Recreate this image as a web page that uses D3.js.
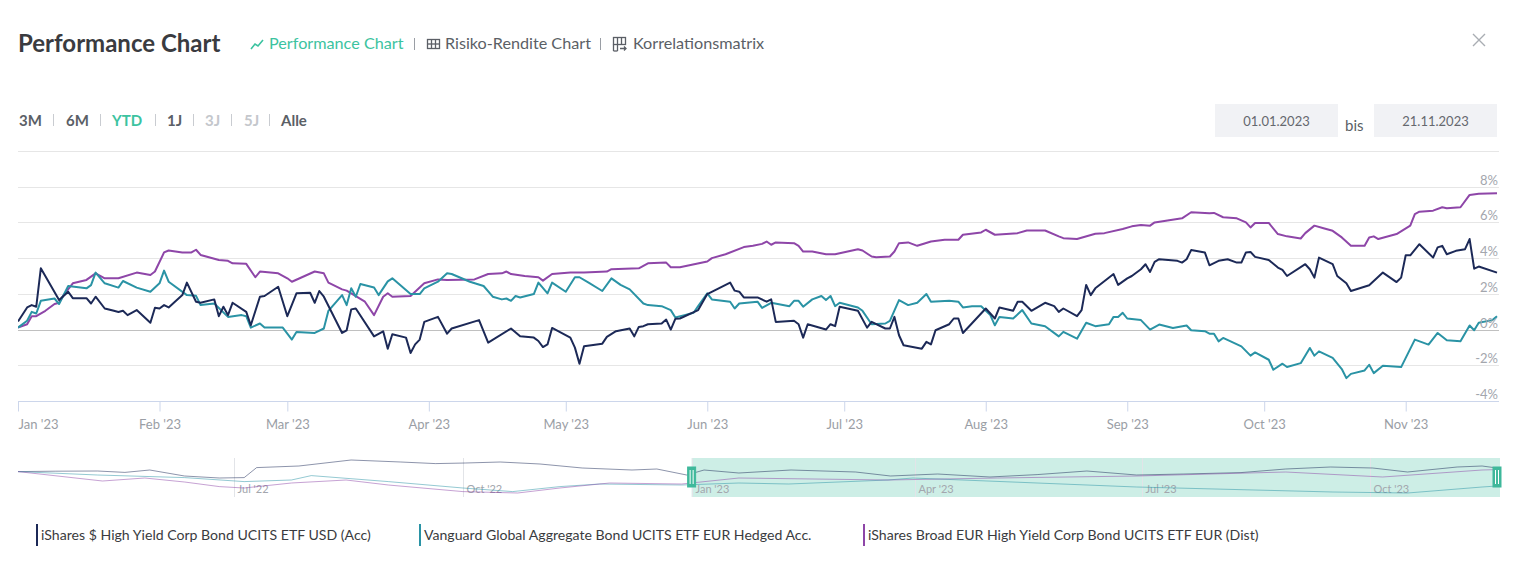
<!DOCTYPE html>
<html><head><meta charset="utf-8">
<script src="https://cdn.jsdelivr.net/npm/d3@7"></script>
<style>
html,body{margin:0;padding:0;background:#fff;}
svg{display:block;font-family:Lato,"Open Sans",sans-serif;}
</style></head>
<body><svg id="c" width="1517" height="583"></svg>
<script>
// ---------- DATA ----------
const seriesNames = [
  "iShares $ High Yield Corp Bond UCITS ETF USD (Acc)",
  "Vanguard Global Aggregate Bond UCITS ETF EUR Hedged Acc.",
  "iShares Broad EUR High Yield Corp Bond UCITS ETF EUR (Dist)"
];
const hyUsd = [["2023-01-01",0.45],["2023-01-03",1.24],["2023-01-04",1.37],["2023-01-05",1.28],["2023-01-06",3.43],["2023-01-10",1.65],["2023-01-12",2.12],["2023-01-13",1.76],["2023-01-16",1.76],["2023-01-17",1.46],["2023-01-18",1.84],["2023-01-20",1.18],["2023-01-22",1.05],["2023-01-23",0.98],["2023-01-24",1.05],["2023-01-25",0.81],["2023-01-27",1.09],["2023-01-30",0.38],["2023-01-31",1.22],["2023-02-01",1.18],["2023-02-02",1.37],["2023-02-03",1.24],["2023-02-06",1.93],["2023-02-07",2.63],["2023-02-09",1.56],["2023-02-10",1.50],["2023-02-13",1.69],["2023-02-14",0.75],["2023-02-15",1.28],["2023-02-16",0.81],["2023-02-17",1.50],["2023-02-20",0.99],["2023-02-21",0.24],["2023-02-23",1.84],["2023-02-24",1.88],["2023-02-27",2.40],["2023-03-01",0.75],["2023-03-03",2.03],["2023-03-06",2.06],["2023-03-07",1.50],["2023-03-08",2.16],["2023-03-09",1.84],["2023-03-13",-0.19],["2023-03-14",-0.04],["2023-03-15",1.13],["2023-03-16",1.18],["2023-03-20",-0.38],["2023-03-22",-0.10],["2023-03-23",-1.07],["2023-03-24",-0.26],["2023-03-27",-0.45],["2023-03-28",-1.31],["2023-03-29",-0.83],["2023-03-30",-0.56],["2023-03-31",0.43],["2023-04-03",0.71],["2023-04-05",-0.23],["2023-04-06",0.06],["2023-04-12",0.53],["2023-04-14",-0.73],["2023-04-19",0.06],["2023-04-21",-0.38],["2023-04-24",-0.45],["2023-04-25",-0.64],["2023-04-26",-0.98],["2023-04-27",-0.83],["2023-04-28",0.09],["2023-05-02",-0.45],["2023-05-03",-1.01],["2023-05-04",-1.91],["2023-05-05",-0.94],["2023-05-09",-0.79],["2023-05-10",-0.41],["2023-05-12",-0.09],["2023-05-15",0.06],["2023-05-16",-0.38],["2023-05-17",0.15],["2023-05-18",0.19],["2023-05-19",0.30],["2023-05-22",0.34],["2023-05-23",0.56],["2023-05-24",0.00],["2023-05-25",0.60],["2023-05-26",0.62],["2023-05-30",1.09],["2023-06-01",1.99],["2023-06-06",2.63],["2023-06-07",2.18],["2023-06-08",2.12],["2023-06-09",1.80],["2023-06-12",1.80],["2023-06-14",1.56],["2023-06-15",1.69],["2023-06-16",0.43],["2023-06-20",0.49],["2023-06-21",0.30],["2023-06-22",-0.45],["2023-06-23",0.30],["2023-06-27",0.00],["2023-06-28",0.30],["2023-06-29",0.19],["2023-06-30",1.28],["2023-07-04",1.05],["2023-07-06",0.11],["2023-07-07",0.43],["2023-07-10",0.06],["2023-07-11",0.06],["2023-07-12",0.71],["2023-07-13",-0.32],["2023-07-14",-0.88],["2023-07-18",-1.07],["2023-07-19",-0.69],["2023-07-20",-0.83],["2023-07-21",-0.04],["2023-07-24",0.30],["2023-07-25",0.62],["2023-07-26",0.62],["2023-07-27",-0.19],["2023-08-01",1.18],["2023-08-03",0.62],["2023-08-04",1.24],["2023-08-07",1.05],["2023-08-08",1.56],["2023-08-09",1.56],["2023-08-11",1.05],["2023-08-14",1.50],["2023-08-16",1.31],["2023-08-17",0.99],["2023-08-18",1.18],["2023-08-21",0.75],["2023-08-22",1.09],["2023-08-23",2.50],["2023-08-24",1.93],["2023-08-25",2.31],["2023-08-29",3.11],["2023-08-30",2.50],["2023-09-01",2.87],["2023-09-02",3.00],["2023-09-04",3.38],["2023-09-05",3.66],["2023-09-06",3.23],["2023-09-07",3.79],["2023-09-08",3.94],["2023-09-12",3.85],["2023-09-13",3.75],["2023-09-14",3.94],["2023-09-15",4.45],["2023-09-18",4.32],["2023-09-19",3.60],["2023-09-21",3.85],["2023-09-23",3.94],["2023-09-25",3.75],["2023-09-26",3.75],["2023-09-27",4.32],["2023-09-28",4.35],["2023-09-29",4.07],["2023-10-02",3.90],["2023-10-04",3.47],["2023-10-05",3.34],["2023-10-06",3.00],["2023-10-10",3.66],["2023-10-11",3.38],["2023-10-12",2.91],["2023-10-13",4.03],["2023-10-16",3.66],["2023-10-17",3.00],["2023-10-19",2.59],["2023-10-20",2.16],["2023-10-24",2.48],["2023-10-27",3.19],["2023-10-30",2.66],["2023-10-31",2.91],["2023-11-01",4.16],["2023-11-02",4.16],["2023-11-04",4.78],["2023-11-07",4.03],["2023-11-08",4.60],["2023-11-09",4.69],["2023-11-10",4.22],["2023-11-12",4.41],["2023-11-14",4.50],["2023-11-15",5.07],["2023-11-16",3.41],["2023-11-17",3.53],["2023-11-21",3.19]];
const vanguardAgg = [["2023-01-01",0.11],["2023-01-03",0.49],["2023-01-04",0.99],["2023-01-05",0.90],["2023-01-06",1.61],["2023-01-09",1.74],["2023-01-10",1.43],["2023-01-12",2.44],["2023-01-16",2.31],["2023-01-17",2.49],["2023-01-18",3.19],["2023-01-20",2.59],["2023-01-23",2.35],["2023-01-24",2.72],["2023-01-27",2.35],["2023-01-30",2.12],["2023-02-01",2.59],["2023-02-02",3.30],["2023-02-03",2.68],["2023-02-07",1.93],["2023-02-09",1.89],["2023-02-10",1.37],["2023-02-13",1.46],["2023-02-16",0.71],["2023-02-19",0.81],["2023-02-20",0.75],["2023-02-21",0.11],["2023-02-23",0.34],["2023-02-24",0.11],["2023-02-28",0.11],["2023-03-02",-0.56],["2023-03-03",-0.13],["2023-03-07",-0.19],["2023-03-09",0.06],["2023-03-10",1.05],["2023-03-13",1.93],["2023-03-14",1.37],["2023-03-15",2.31],["2023-03-16",1.84],["2023-03-17",2.55],["2023-03-20",2.36],["2023-03-21",1.93],["2023-03-23",2.70],["2023-03-24",2.87],["2023-03-28",1.99],["2023-03-30",1.99],["2023-03-31",2.31],["2023-04-03",2.68],["2023-04-05",3.15],["2023-04-06",3.11],["2023-04-10",2.68],["2023-04-13",2.44],["2023-04-15",1.84],["2023-04-17",1.69],["2023-04-18",1.74],["2023-04-19",1.61],["2023-04-20",1.88],["2023-04-21",1.80],["2023-04-24",1.99],["2023-04-25",2.63],["2023-04-27",2.03],["2023-04-28",2.63],["2023-05-01",2.12],["2023-05-03",2.93],["2023-05-04",2.93],["2023-05-06",2.63],["2023-05-09",2.16],["2023-05-11",2.87],["2023-05-13",2.50],["2023-05-15",2.25],["2023-05-18",1.46],["2023-05-19",1.37],["2023-05-22",1.31],["2023-05-24",1.09],["2023-05-25",0.68],["2023-05-27",0.81],["2023-05-29",0.94],["2023-05-30",1.31],["2023-06-01",2.03],["2023-06-02",1.69],["2023-06-06",1.56],["2023-06-07",1.18],["2023-06-08",1.46],["2023-06-12",1.56],["2023-06-13",1.21],["2023-06-15",1.50],["2023-06-19",1.31],["2023-06-20",1.61],["2023-06-21",1.61],["2023-06-22",1.28],["2023-06-24",1.69],["2023-06-26",1.88],["2023-06-27",1.65],["2023-06-28",1.88],["2023-06-29",1.31],["2023-06-30",1.50],["2023-07-04",1.24],["2023-07-05",1.05],["2023-07-07",0.30],["2023-07-10",0.34],["2023-07-11",0.49],["2023-07-13",1.65],["2023-07-15",1.37],["2023-07-17",1.50],["2023-07-19",1.99],["2023-07-20",1.56],["2023-07-24",1.61],["2023-07-26",1.56],["2023-07-27",1.24],["2023-07-29",1.31],["2023-07-31",1.31],["2023-08-02",0.81],["2023-08-03",0.24],["2023-08-04",0.71],["2023-08-07",0.62],["2023-08-09",1.09],["2023-08-11",0.34],["2023-08-14",0.19],["2023-08-17",-0.38],["2023-08-18",-0.13],["2023-08-21",-0.51],["2023-08-23",0.38],["2023-08-25",0.19],["2023-08-28",0.30],["2023-08-29",0.71],["2023-08-30",0.71],["2023-08-31",0.94],["2023-09-01",0.62],["2023-09-04",0.53],["2023-09-06",0.00],["2023-09-08",0.28],["2023-09-11",0.09],["2023-09-14",0.23],["2023-09-15",-0.04],["2023-09-18",-0.09],["2023-09-19",-0.23],["2023-09-20",-0.23],["2023-09-21",-0.66],["2023-09-22",-0.47],["2023-09-26",-0.94],["2023-09-28",-1.46],["2023-09-29",-1.28],["2023-10-02",-1.69],["2023-10-03",-2.25],["2023-10-05",-1.91],["2023-10-06",-2.10],["2023-10-09",-1.88],["2023-10-11",-1.03],["2023-10-12",-1.46],["2023-10-13",-1.22],["2023-10-16",-1.59],["2023-10-18",-2.21],["2023-10-19",-2.72],["2023-10-20",-2.48],["2023-10-23",-2.29],["2023-10-24",-1.97],["2023-10-25",-2.44],["2023-10-27",-2.03],["2023-10-31",-2.10],["2023-11-03",-0.56],["2023-11-06",-0.84],["2023-11-08",-0.19],["2023-11-10",-0.60],["2023-11-13",-0.66],["2023-11-15",0.23],["2023-11-16",-0.04],["2023-11-17",0.38],["2023-11-20",0.53],["2023-11-21",0.75]];
const hyEur = [["2023-01-01",0.11],["2023-01-03",0.30],["2023-01-04",0.75],["2023-01-05",0.75],["2023-01-07",1.05],["2023-01-09",1.43],["2023-01-10",1.50],["2023-01-11",1.93],["2023-01-13",2.59],["2023-01-16",2.78],["2023-01-18",3.15],["2023-01-20",2.87],["2023-01-23",2.87],["2023-01-27",3.19],["2023-01-30",3.06],["2023-01-31",3.25],["2023-02-02",4.32],["2023-02-03",4.43],["2023-02-06",4.32],["2023-02-08",4.32],["2023-02-09",4.47],["2023-02-10",4.18],["2023-02-14",3.90],["2023-02-16",3.85],["2023-02-17",3.71],["2023-02-20",3.68],["2023-02-22",2.93],["2023-02-23",3.25],["2023-02-27",3.15],["2023-03-01",2.87],["2023-03-02",2.68],["2023-03-07",3.25],["2023-03-09",3.15],["2023-03-10",2.63],["2023-03-13",2.25],["2023-03-14",2.18],["2023-03-18",1.56],["2023-03-20",0.81],["2023-03-22",1.84],["2023-03-23",2.03],["2023-03-24",1.84],["2023-03-28",1.88],["2023-03-31",2.59],["2023-04-03",2.81],["2023-04-05",2.78],["2023-04-11",2.81],["2023-04-14",3.11],["2023-04-17",3.15],["2023-04-18",3.25],["2023-04-19",3.11],["2023-04-22",3.00],["2023-04-25",2.93],["2023-04-26",2.74],["2023-04-28",3.11],["2023-05-02",3.19],["2023-05-05",3.19],["2023-05-10",3.25],["2023-05-11",3.38],["2023-05-17",3.43],["2023-05-19",3.71],["2023-05-23",3.75],["2023-05-24",3.49],["2023-05-26",3.49],["2023-06-01",3.81],["2023-06-02",4.00],["2023-06-05",4.22],["2023-06-09",4.62],["2023-06-11",4.69],["2023-06-13",4.80],["2023-06-14",4.93],["2023-06-15",4.75],["2023-06-16",4.88],["2023-06-20",4.84],["2023-06-21",4.69],["2023-06-22",4.37],["2023-06-24",4.37],["2023-06-27",4.22],["2023-06-29",4.22],["2023-07-04",4.50],["2023-07-05",4.43],["2023-07-07",4.09],["2023-07-08",4.05],["2023-07-11",4.09],["2023-07-12",4.37],["2023-07-13",4.84],["2023-07-15",4.88],["2023-07-17",4.69],["2023-07-20",4.93],["2023-07-23",5.03],["2023-07-26",5.03],["2023-07-27",5.31],["2023-07-31",5.44],["2023-08-01",5.59],["2023-08-03",5.31],["2023-08-08",5.40],["2023-08-10",5.55],["2023-08-14",5.55],["2023-08-17",5.22],["2023-08-18",5.12],["2023-08-21",5.07],["2023-08-25",5.37],["2023-08-27",5.40],["2023-08-31",5.63],["2023-09-02",5.78],["2023-09-04",5.85],["2023-09-06",5.82],["2023-09-07",6.00],["2023-09-13",6.23],["2023-09-15",6.57],["2023-09-19",6.51],["2023-09-20",6.53],["2023-09-22",6.29],["2023-09-25",6.23],["2023-09-27",6.00],["2023-09-28",5.72],["2023-09-29",5.97],["2023-10-02",5.97],["2023-10-04",5.35],["2023-10-06",5.22],["2023-10-09",5.10],["2023-10-10",5.40],["2023-10-12",5.82],["2023-10-14",5.67],["2023-10-16",5.53],["2023-10-18",5.16],["2023-10-20",4.69],["2023-10-23",4.69],["2023-10-24",5.16],["2023-10-25",5.22],["2023-10-26",5.07],["2023-10-30",5.35],["2023-11-02",5.82],["2023-11-03",6.47],["2023-11-04",6.60],["2023-11-07",6.66],["2023-11-09",6.85],["2023-11-10",6.79],["2023-11-13",6.85],["2023-11-15",7.54],["2023-11-17",7.60],["2023-11-21",7.64]];

// navigator (full history, % since navigator start)
const navHyUsd = [["2022-04-05",0],["2022-04-20",0.2],["2022-05-07",0.3],["2022-05-18",-0.4],["2022-05-28",0.8],["2022-06-11",-2.2],["2022-06-25",-3.2],["2022-07-05",-3.0],["2022-07-10",2.0],["2022-07-27",2.8],["2022-08-17",5.8],["2022-09-06",4.8],["2022-09-20",4.0],["2022-10-02",4.3],["2022-10-16",4.8],["2022-11-01",3.8],["2022-11-18",1.8],["2022-12-08",0.8],["2022-12-18",1.3],["2022-12-30",-1.7],["2023-01-06",0.8],["2023-01-20",-0.7],["2023-02-10",0.8],["2023-03-08",-0.2],["2023-03-22",-2.2],["2023-04-10",-1.2],["2023-05-01",-2.7],["2023-05-20",-1.5],["2023-06-09",0.3],["2023-06-29",-1.7],["2023-07-18",-1.2],["2023-08-10",-0.5],["2023-08-28",1.3],["2023-09-15",2.3],["2023-10-02",1.8],["2023-10-16",-0.2],["2023-11-05",2.3],["2023-11-15",2.8],["2023-11-21",1.8]];
const navVanguardAgg = [["2022-04-05",0],["2022-05-07",-1.7],["2022-06-11",-3.0],["2022-07-05",-5.0],["2022-07-24",-4.2],["2022-08-01",-2.0],["2022-09-01",-5.0],["2022-10-01",-8.2],["2022-10-21",-10.0],["2022-11-09",-7.5],["2022-11-25",-6.2],["2022-12-28",-6.7],["2023-01-20",-5.7],["2023-02-09",-6.2],["2023-03-21",-4.2],["2023-03-31",-3.2],["2023-05-20",-5.7],["2023-06-29",-7.7],["2023-09-16",-10.2],["2023-10-16",-10.7],["2023-11-15",-7.7],["2023-11-21",-7.2]];
const navHyEur = [["2022-04-05",0],["2022-05-09",-4.7],["2022-05-26",-3.2],["2022-06-11",-5.2],["2022-06-25",-7.5],["2022-07-05",-8.2],["2022-07-24",-5.7],["2022-08-15",-4.2],["2022-09-01",-6.7],["2022-10-01",-10.0],["2022-10-23",-10.7],["2022-11-09",-8.2],["2022-11-29",-5.7],["2022-12-28",-6.2],["2023-01-20",-3.2],["2023-03-21",-4.2],["2023-05-04",-3.2],["2023-06-29",-2.2],["2023-08-28",-0.2],["2023-10-06",-2.7],["2023-11-15",0.8],["2023-11-21",1.0]];

const yTicks = [-4,-2,0,2,4,6,8,10];
const monthTicks = ["2023-01-01","2023-02-01","2023-03-01","2023-04-01","2023-05-01","2023-06-01","2023-07-01","2023-08-01","2023-09-01","2023-10-01","2023-11-01"];
const navTicks = ["2022-07-01","2022-10-01","2023-01-01","2023-04-01","2023-07-01","2023-10-01"];
const rangeButtons = ["3M","6M","YTD","1J","3J","5J","Alle"];
const tabLabels = ["Performance Chart","Risiko-Rendite Chart","Korrelationsmatrix"];
const dateFrom = "01.01.2023", dateTo = "21.11.2023";
const viewStart = "2023-01-01", viewEnd = "2023-11-21", navStart = "2022-04-05";

// ---------- STYLE ----------
const colors = ["#1c2957","#2a93a5","#8e46a8"];
const teal = "#3cc3a0";

// ---------- DRAW ----------
const parse = d3.timeParse("%Y-%m-%d");
const svg = d3.select("#c");

// header
svg.append("text").attr("x",18).attr("y",52).attr("font-size",24).attr("font-weight",700)
  .attr("fill","#3a3b40").text("Performance Chart");

// tabs
const tabX = [269,445,633];
const tabCol = [teal,"#5b5f66","#5b5f66"];
tabLabels.forEach((t,i)=>{
  svg.append("text").attr("x",tabX[i]).attr("y",49).attr("font-size",16.2).attr("fill",tabCol[i]).text(t);
});
[414,600].forEach(sx=>{
  svg.append("line").attr("x1",sx+0.5).attr("x2",sx+0.5).attr("y1",38).attr("y2",50).attr("stroke","#9a9ea5").attr("stroke-width",1);
});
// icon: line chart
svg.append("path").attr("d","M251,49 L255,44 L258,46 L263,40").attr("fill","none").attr("stroke",teal).attr("stroke-width",1.6);
// icon: grid
const gi = svg.append("g").attr("stroke","#5b5f66").attr("fill","none").attr("stroke-width",1.3);
gi.append("rect").attr("x",427.5).attr("y",39.5).attr("width",12).attr("height",9);
gi.append("line").attr("x1",431.5).attr("x2",431.5).attr("y1",39.5).attr("y2",48.5);
gi.append("line").attr("x1",435.5).attr("x2",435.5).attr("y1",39.5).attr("y2",48.5);
gi.append("line").attr("x1",427.5).attr("x2",439.5).attr("y1",44).attr("y2",44);
// icon: matrix
const mi = svg.append("g").attr("stroke","#5b5f66").attr("fill","none").attr("stroke-width",1.3);
mi.append("rect").attr("x",613.5).attr("y",37.5).attr("width",12).attr("height",7);
mi.append("line").attr("x1",617.5).attr("x2",617.5).attr("y1",37.5).attr("y2",51);
mi.append("line").attr("x1",621.5).attr("x2",621.5).attr("y1",37.5).attr("y2",44.5);
mi.append("line").attr("x1",613.5).attr("x2",613.5).attr("y1",44.5).attr("y2",51);
mi.append("line").attr("x1",613.5).attr("x2",617.5).attr("y1",51).attr("y2",51);
mi.append("path").attr("d","M620,48.5 L626,48.5 M624,46.5 L626,48.5 L624,50.5");

// close X
svg.append("path").attr("d","M1473,34 L1485,46 M1485,34 L1473,46").attr("stroke","#a9adb3").attr("stroke-width",1.4);

// range buttons
const rbX = [19,66,112,167,205,244,281];
const rbCol = ["#5b5f66","#5b5f66",teal,"#5b5f66","#c4c7cc","#c4c7cc","#5b5f66"];
rangeButtons.forEach((t,i)=>{
  svg.append("text").attr("x",rbX[i]).attr("y",126).attr("font-size",15).attr("font-weight",700)
    .attr("fill",rbCol[i]).text(t);
  if(i<rangeButtons.length-1){
    const sx = [53,100,155,193,231,269][i];
    svg.append("line").attr("x1",sx+0.5).attr("x2",sx+0.5).attr("y1",114).attr("y2",126).attr("stroke","#c9ccd1").attr("stroke-width",1);
  }
});

// date inputs
[[1215,dateFrom],[1374,dateTo]].forEach(([bx,t])=>{
  svg.append("rect").attr("x",bx).attr("y",104).attr("width",123).attr("height",33).attr("fill","#f1f2f5");
  svg.append("text").attr("x",bx+61.5).attr("y",126).attr("text-anchor","middle").attr("font-size",13)
    .attr("fill","#65686e").text(t);
});
svg.append("text").attr("x",1345).attr("y",131).attr("font-size",15).attr("fill","#5b5f66").text("bis");

// main chart scales
const x = d3.scaleTime().domain([parse(viewStart),parse(viewEnd)]).range([18,1497]);
const y = d3.scaleLinear().domain([-4,10]).range([401,151]);

// grid
svg.append("g").selectAll("line").data(yTicks).join("line")
  .attr("x1",18).attr("x2",1499).attr("y1",d=>Math.round(y(d))+0.5).attr("y2",d=>Math.round(y(d))+0.5)
  .attr("stroke",d=>d===0?"#c0c0c0":"#e6e6e6").attr("stroke-width",1);

// x axis line + ticks
svg.append("line").attr("x1",18).attr("x2",1499).attr("y1",401.5).attr("y2",401.5).attr("stroke","#ccd6eb");
const xAxis = d3.axisBottom(x).tickValues(monthTicks.map(parse)).tickFormat(d3.timeFormat("%b '%y")).tickSize(10).tickPadding(8);
const xg = svg.append("g").attr("transform","translate(0,401.5)").call(xAxis);
xg.select(".domain").remove();
xg.selectAll(".tick line").attr("stroke","#ccd6eb");
xg.selectAll(".tick text").attr("fill","#9a9ea5").attr("font-size",13).attr("font-family","Lato,sans-serif");
xg.selectAll(".tick").filter((d,i)=>i===0).select("text").attr("text-anchor","start");

// lines
svg.append("clipPath").attr("id","pc").append("rect").attr("x",18).attr("y",140).attr("width",1484).attr("height",270);
const line = d3.line().x(d=>x(parse(d[0]))).y(d=>y(d[1]));
const mainSeries = [hyUsd, vanguardAgg, hyEur];
const lg = svg.append("g").attr("clip-path","url(#pc)");
[2,1,0].forEach(i=>{
  lg.append("path").attr("d",line(mainSeries[i])).attr("fill","none").attr("stroke",colors[i])
    .attr("stroke-width",2).attr("stroke-linejoin","round");
});

// y labels (inside plot, right)
svg.append("g").selectAll("text").data(yTicks.filter(d=>d<10)).join("text")
  .attr("x",1498).attr("y",d=>y(d)-2).attr("text-anchor","end").attr("font-size",13)
  .attr("fill","#a3a6ad").text(d=>d+"%");

// navigator
const nx = d3.scaleTime().domain([parse(navStart),parse(viewEnd)]).range([18,1497]);
const navSeries = [navHyUsd, navVanguardAgg, navHyEur];
const allNav = navSeries.flat().map(d=>d[1]);
const ny = d3.scaleLinear().domain(d3.extent(allNav)).range([493,460]);
svg.append("rect").attr("x",nx(parse(viewStart))).attr("y",458).attr("width",1497-nx(parse(viewStart))+3).attr("height",39)
  .attr("fill","#cdeee6");
navTicks.forEach(t=>{
  const px = Math.round(nx(parse(t)))+0.5;
  svg.append("line").attr("x1",px).attr("x2",px).attr("y1",458).attr("y2",497).attr("stroke","#e2e4e8");
  svg.append("text").attr("x",px+3).attr("y",493).attr("font-size",11).attr("fill","#a3a6ad")
    .text(d3.timeFormat("%b '%y")(parse(t)));
});
const nline = d3.line().x(d=>nx(parse(d[0]))).y(d=>ny(d[1]));
navSeries.forEach((s,i)=>{
  svg.append("path").attr("d",nline(s)).attr("fill","none").attr("stroke",colors[i]).attr("stroke-opacity",0.5).attr("stroke-width",1);
});
// handles
[nx(parse(viewStart)), 1497].forEach(hx=>{
  svg.append("rect").attr("x",hx-4).attr("y",467).attr("width",8).attr("height",20).attr("fill","#3fb89b").attr("stroke","#3fb89b");
  svg.append("line").attr("x1",hx-1.5).attr("x2",hx-1.5).attr("y1",470).attr("y2",484).attr("stroke","#fff");
  svg.append("line").attr("x1",hx+1.5).attr("x2",hx+1.5).attr("y1",470).attr("y2",484).attr("stroke","#fff");
});

// legend
const legX = [36,419,863];
seriesNames.forEach((n,i)=>{
  svg.append("rect").attr("x",legX[i]).attr("y",524).attr("width",2).attr("height",22).attr("fill",colors[i]);
  svg.append("text").attr("x",legX[i]+5).attr("y",540).attr("font-size",14.1).attr("fill","#3a3b40").text(n);
});
</script></body></html>
